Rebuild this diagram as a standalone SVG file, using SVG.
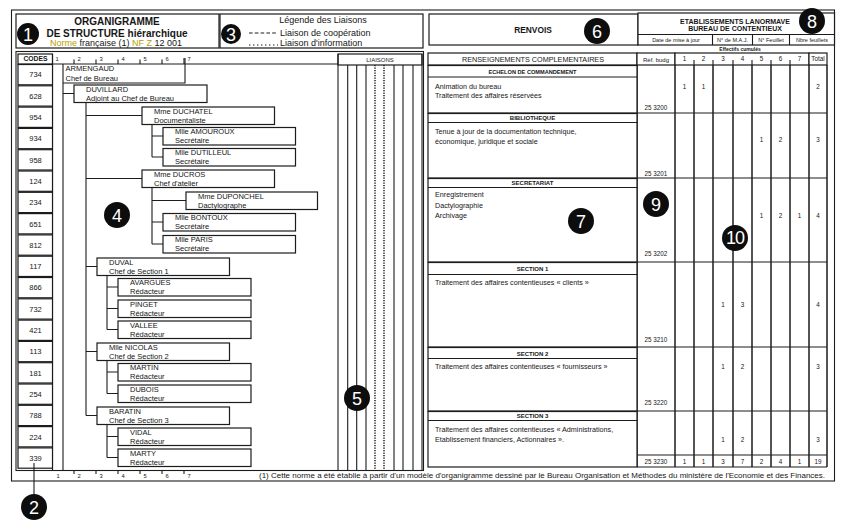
<svg xmlns="http://www.w3.org/2000/svg" width="842" height="523" viewBox="0 0 842 523">
<style>
.l{stroke:#1c1c1c;stroke-width:1.1;fill:none}
.b{fill:#fff;stroke:#1c1c1c;stroke-width:1.2}
.g{stroke:#1c1c1c;stroke-width:1.5;fill:none}
text{font-family:"Liberation Sans",Arial,sans-serif;fill:#161616}
.n{font-size:7.5px}
.c{font-size:7.5px;text-anchor:middle}
.m{text-anchor:middle}
.s{font-size:5.8px;text-anchor:middle}
.r{font-size:7.2px}
.h{font-size:6px;font-weight:bold;text-anchor:middle}
.v{font-size:6.3px;text-anchor:middle}
.k circle{fill:#0d0d0d}
.k text{fill:#fff;font-size:18px;text-anchor:middle}
.dot{stroke-dasharray:1.3 1.2;stroke-width:1.5}
.ol{fill:#b5a000}
</style>
<rect width="842" height="523" fill="#fff"/>
<rect x="11.5" y="10" width="823" height="471" class="l"/>

<g id="header-title">
<rect x="16" y="14" width="203" height="34" class="b"/>
<text x="117" y="25" class="m" font-size="10" font-weight="bold">ORGANIGRAMME</text>
<text x="117" y="36.5" class="m" font-size="10" font-weight="bold">DE STRUCTURE hiérarchique</text>
<text x="116" y="46" class="m" font-size="9"><tspan class="ol">Norme</tspan> française (1) <tspan class="ol">NF Z</tspan> 12 001</text>
</g>
<g id="header-legend">
<rect x="220" y="14" width="203" height="34" class="b"/>
<text x="323" y="23" class="m" font-size="9">Légende des Liaisons</text>
<line x1="249" y1="33" x2="278" y2="33" class="l" stroke-dasharray="3.6 2.2" stroke-width="1.3"/>
<text x="280" y="35.5" font-size="9">Liaison de coopération</text>
<line x1="249" y1="45" x2="278" y2="45" class="l" stroke-dasharray="1.4 2.6" stroke-width="1.6"/>
<text x="280" y="46" font-size="9">Liaison d'information</text>
</g>
<g id="header-renvois">
<rect x="429" y="14" width="209" height="31" class="b"/>
<text x="533" y="33" class="m" font-size="8.4" font-weight="bold">RENVOIS</text>
</g>
<g id="header-etab">
<rect x="638" y="13" width="196.5" height="32" class="b"/>
<text x="735" y="23.5" class="m" font-size="7" font-weight="bold">ETABLISSEMENTS LANORMAVE</text>
<text x="735" y="31" class="m" font-size="7" font-weight="bold">BUREAU DE CONTENTIEUX</text>
<path d="M638 34.5H834.5M712.5 34.5V45M752.5 34.5V45M789.5 34.5V45" class="l"/>
<text x="676" y="41.8" class="m" font-size="5.5">Date de mise à jour</text>
<text x="732.5" y="41.8" class="m" font-size="5.5">N° de M.A.J.</text>
<text x="771" y="41.8" class="m" font-size="5.5">N° Feuillet</text>
<text x="812" y="41.8" class="m" font-size="5.5">Nbre feuillets</text>
<text x="740" y="50.5" class="m" font-size="5" font-weight="bold">Effectifs cumulés</text>
</g>

<g id="left-panel">
<rect x="16" y="51.5" width="407.5" height="419" class="l"/>
<rect x="18" y="54" width="34.5" height="10" class="b"/>
<text x="35.5" y="61.2" class="m" font-size="6.8" font-weight="bold">CODES</text>
<path d="M52.5 64H338M52.5 54V470.5M74 59.5V64M96 59.5V64M118 59.5V64M140 59.5V64M162 59.5V64M184 58V64M74 470V474M96 470V474M118 470V474M140 470V474M162 470V474M184 470V474" class="l"/>
<text x="57" y="61" class="s">1</text><text x="79" y="61" class="s">2</text><text x="101" y="61" class="s">3</text><text x="123" y="61" class="s">4</text><text x="145" y="61" class="s">5</text><text x="167" y="61" class="s">6</text><text x="189" y="61" class="s">7</text>
<text x="58" y="477.5" class="s">1</text><text x="79" y="477.5" class="s">2</text><text x="101" y="477.5" class="s">3</text><text x="123" y="477.5" class="s">4</text><text x="145" y="477.5" class="s">5</text><text x="167" y="477.5" class="s">6</text><text x="189" y="477.5" class="s">7</text>
</g>

<g id="codes">
<rect x="18" y="64.5" width="34.5" height="20.3" class="b"/><text x="35.5" y="77.4" class="c">734</text>
<rect x="18" y="85.8" width="34.5" height="20.3" class="b"/><text x="35.5" y="98.7" class="c">628</text>
<rect x="18" y="107.1" width="34.5" height="20.3" class="b"/><text x="35.5" y="120" class="c">954</text>
<rect x="18" y="128.4" width="34.5" height="20.3" class="b"/><text x="35.5" y="141.3" class="c">934</text>
<rect x="18" y="149.7" width="34.5" height="20.3" class="b"/><text x="35.5" y="162.6" class="c">958</text>
<rect x="18" y="171" width="34.5" height="20.3" class="b"/><text x="35.5" y="183.9" class="c">124</text>
<rect x="18" y="192.3" width="34.5" height="20.3" class="b"/><text x="35.5" y="205.2" class="c">234</text>
<rect x="18" y="213.6" width="34.5" height="20.3" class="b"/><text x="35.5" y="226.5" class="c">651</text>
<rect x="18" y="234.9" width="34.5" height="20.3" class="b"/><text x="35.5" y="247.8" class="c">812</text>
<rect x="18" y="256.2" width="34.5" height="20.3" class="b"/><text x="35.5" y="269.1" class="c">117</text>
<rect x="18" y="277.5" width="34.5" height="20.3" class="b"/><text x="35.5" y="290.4" class="c">866</text>
<rect x="18" y="298.8" width="34.5" height="20.3" class="b"/><text x="35.5" y="311.7" class="c">732</text>
<rect x="18" y="320.1" width="34.5" height="20.3" class="b"/><text x="35.5" y="333" class="c">421</text>
<rect x="18" y="341.4" width="34.5" height="20.3" class="b"/><text x="35.5" y="354.3" class="c">113</text>
<rect x="18" y="362.7" width="34.5" height="20.3" class="b"/><text x="35.5" y="375.6" class="c">181</text>
<rect x="18" y="384" width="34.5" height="20.3" class="b"/><text x="35.5" y="396.9" class="c">254</text>
<rect x="18" y="405.3" width="34.5" height="20.3" class="b"/><text x="35.5" y="418.2" class="c">788</text>
<rect x="18" y="426.6" width="34.5" height="20.3" class="b"/><text x="35.5" y="439.5" class="c">224</text>
<rect x="18" y="447.9" width="34.5" height="20.3" class="b"/><text x="35.5" y="460.8" class="c">339</text>
</g>

<g id="connectors">
<path class="l" d="M63 64V470.5M63 93.5H74M86 102.5V415.5M86 115.5H142M86 178.5H142M86 266.5H97M86 351.5H97M86 415.5H97
M152 124.5V157M152 136H163M152 157H163M152 187.5V244M152 200.5H186M152 222H163M152 244H163
M107 275.5V329.5M107 287H118M107 308.5H118M107 329.5H118M107 360.5V393.5M107 372H118M107 393.5H118M107 424.5V457.5M107 436.5H118M107 457.5H118"/>
</g>

<g id="n-armengaud"><path d="M63 83H185V58" class="l"/><text x="65.5" y="71" class="n">ARMENGAUD</text><text x="65.5" y="80.5" class="n">Chef de Bureau</text></g>
<g id="n-duvillard"><rect x="74" y="85" width="133" height="17.5" class="b"/><text x="86" y="91.5" class="n">DUVILLARD</text><text x="86" y="100.5" class="n">Adjoint au Chef de Bureau</text></g>
<g id="n-duchatel"><rect x="142" y="107" width="132.5" height="17.5" class="b"/><text x="154" y="113.5" class="n">Mme DUCHATEL</text><text x="154" y="122.5" class="n">Documentaliste</text></g>
<g id="n-amouroux"><rect x="163" y="127.5" width="132.5" height="17.5" class="b"/><text x="175" y="134" class="n">Mlle AMOUROUX</text><text x="175" y="143" class="n">Secrétaire</text></g>
<g id="n-dutilleul"><rect x="163" y="148.5" width="132.5" height="17.5" class="b"/><text x="175" y="155" class="n">Mlle DUTILLEUL</text><text x="175" y="164" class="n">Secrétaire</text></g>
<g id="n-ducros"><rect x="142" y="170" width="132.5" height="17.5" class="b"/><text x="154" y="176.5" class="n">Mme DUCROS</text><text x="154" y="185.5" class="n">Chef d'atelier</text></g>
<g id="n-duponchel"><rect x="186" y="192" width="131.5" height="17.5" class="b"/><text x="198" y="198.5" class="n">Mme DUPONCHEL</text><text x="198" y="207.5" class="n">Dactylographe</text></g>
<g id="n-bontoux"><rect x="163" y="213.5" width="132.5" height="17.5" class="b"/><text x="175" y="220" class="n">Mlle BONTOUX</text><text x="175" y="229" class="n">Secrétaire</text></g>
<g id="n-paris"><rect x="163" y="235.5" width="132.5" height="17.5" class="b"/><text x="175" y="242" class="n">Mlle PARIS</text><text x="175" y="251" class="n">Secrétaire</text></g>
<g id="n-duval"><rect x="97" y="258" width="132.5" height="17.5" class="b"/><text x="109" y="264.5" class="n">DUVAL</text><text x="109" y="273.5" class="n">Chef de Section 1</text></g>
<g id="n-avargues"><rect x="118" y="278.5" width="133" height="17.5" class="b"/><text x="130" y="285" class="n">AVARGUES</text><text x="130" y="294" class="n">Rédacteur</text></g>
<g id="n-pinget"><rect x="118" y="300" width="133" height="17.5" class="b"/><text x="130" y="306.5" class="n">PINGET</text><text x="130" y="315.5" class="n">Rédacteur</text></g>
<g id="n-vallee"><rect x="118" y="321" width="133" height="17.5" class="b"/><text x="130" y="327.5" class="n">VALLEE</text><text x="130" y="336.5" class="n">Rédacteur</text></g>
<g id="n-nicolas"><rect x="97" y="343" width="132.5" height="17.5" class="b"/><text x="109" y="349.5" class="n">Mlle NICOLAS</text><text x="109" y="358.5" class="n">Chef de Section 2</text></g>
<g id="n-martin"><rect x="118" y="363.5" width="133" height="17.5" class="b"/><text x="130" y="370" class="n">MARTIN</text><text x="130" y="379" class="n">Rédacteur</text></g>
<g id="n-dubois"><rect x="118" y="385" width="133" height="17.5" class="b"/><text x="130" y="391.5" class="n">DUBOIS</text><text x="130" y="400.5" class="n">Rédacteur</text></g>
<g id="n-baratin"><rect x="97" y="407" width="132.5" height="17.5" class="b"/><text x="109" y="413.5" class="n">BARATIN</text><text x="109" y="422.5" class="n">Chef de Section 3</text></g>
<g id="n-vidal"><rect x="118" y="428" width="133" height="17.5" class="b"/><text x="130" y="434.5" class="n">VIDAL</text><text x="130" y="443.5" class="n">Rédacteur</text></g>
<g id="n-marty"><rect x="118" y="449" width="133" height="17.5" class="b"/><text x="130" y="455.5" class="n">MARTY</text><text x="130" y="464.5" class="n">Rédacteur</text></g>

<g id="liaisons">
<rect x="338" y="54" width="84" height="11" class="b"/>
<text x="380" y="62" class="m" font-size="6">LIAISONS</text>
<path class="l" d="M338 54V470.5M422 54V470.5M347.7 65V470.5M356.7 65V470.5M366 65V470.5M394 65V470.5M403 65V470.5M413 65V470.5"/>
<path class="l dot" d="M375 65V470.5M384 65V470.5"/>
</g>

<g id="renseignements">
<rect x="428" y="53" width="209" height="12" class="b"/>
<text x="533" y="61.5" class="m" font-size="6.5" textLength="142" lengthAdjust="spacingAndGlyphs">RENSEIGNEMENTS COMPLEMENTAIRES</text>
<rect x="637" y="53" width="38" height="12" class="b"/>
<text x="656" y="61.5" class="m" font-size="6">Réf. budg</text>
<rect x="675" y="53" width="134" height="12" class="b"/>
<path class="l" d="M694 60V65M713 60V65M733 60V65M752 60V65M771 60V65M790 60V65"/>
<text x="684.5" y="61" class="v">1</text><text x="703.5" y="61" class="v">2</text><text x="723" y="61" class="v">3</text><text x="742.5" y="61" class="v">4</text><text x="761.5" y="61" class="v">5</text><text x="780.5" y="61" class="v">6</text><text x="799.5" y="61" class="v">7</text>
<rect x="809" y="53" width="18" height="12" class="b"/>
<text x="818" y="61" class="v" font-size="5.5">Total</text>
</g>

<g id="grid">
<path class="g" d="M637 65V467M675 65V467M694 65V467M713 65V467M733 65V467M752 65V467M771 65V467M790 65V467M809 65V467M827 65V467"/>
<path class="l" d="M637 113H827M637 178H827M637 262H827M637 347H827M637 411H827M637 455H827M637 467H827"/>
</g>

<g id="sec-echelon">
<rect x="428" y="65.5" width="209" height="47.5" class="b"/>
<line x1="428" y1="77" x2="637" y2="77" class="l"/>
<text x="532.5" y="74" class="h" textLength="88" lengthAdjust="spacingAndGlyphs">ECHELON DE COMMANDEMENT</text>
<text x="435" y="89" class="r">Animation du bureau</text>
<text x="435" y="97.5" class="r">Traitement des affaires réservées</text>
<text x="656" y="110" class="v">25 3200</text>
<text x="684.5" y="89" class="v">1</text><text x="703.5" y="89" class="v">1</text><text x="818" y="89" class="v">2</text>
</g>
<g id="sec-bibliotheque">
<rect x="428" y="113.5" width="209" height="64.5" class="b"/>
<line x1="428" y1="122.5" x2="637" y2="122.5" class="l"/>
<text x="532.5" y="120.3" class="h">BIBLIOTHEQUE</text>
<text x="435" y="133.5" class="r">Tenue à jour de la documentation technique,</text>
<text x="435" y="143.5" class="r">économique, juridique et sociale</text>
<text x="656" y="176" class="v">25 3201</text>
<text x="761.5" y="142" class="v">1</text><text x="780.5" y="142" class="v">2</text><text x="818" y="142" class="v">3</text>
</g>
<g id="sec-secretariat">
<rect x="428" y="178.5" width="209" height="83.5" class="b"/>
<line x1="428" y1="187.5" x2="637" y2="187.5" class="l"/>
<text x="532.5" y="185.2" class="h">SECRETARIAT</text>
<text x="435" y="197" class="r">Enregistrement</text>
<text x="435" y="207.5" class="r">Dactylographie</text>
<text x="435" y="218" class="r">Archivage</text>
<text x="656" y="256" class="v">25 3202</text>
<text x="761.5" y="218" class="v">1</text><text x="780.5" y="218" class="v">2</text><text x="799.5" y="218" class="v">1</text><text x="818" y="218" class="v">4</text>
</g>
<g id="sec-section1">
<rect x="428" y="262.5" width="209" height="84.5" class="b"/>
<line x1="428" y1="274.5" x2="637" y2="274.5" class="l"/>
<text x="532.5" y="271" class="h" font-size="6.5">SECTION 1</text>
<text x="435" y="285" class="r">Traitement des affaires contentieuses « clients »</text>
<text x="656" y="342" class="v">25 3210</text>
<text x="723" y="307" class="v">1</text><text x="742.5" y="307" class="v">3</text><text x="818" y="307" class="v">4</text>
</g>
<g id="sec-section2">
<rect x="428" y="347.5" width="209" height="63.5" class="b"/>
<line x1="428" y1="358.5" x2="637" y2="358.5" class="l"/>
<text x="532.5" y="355.5" class="h" font-size="6.5">SECTION 2</text>
<text x="435" y="369" class="r">Traitement des affaires contentieuses « fournisseurs »</text>
<text x="656" y="405" class="v">25 3220</text>
<text x="723" y="369" class="v">1</text><text x="742.5" y="369" class="v">2</text><text x="818" y="369" class="v">3</text>
</g>
<g id="sec-section3">
<rect x="428" y="411.5" width="209" height="55.5" class="b"/>
<line x1="428" y1="420.5" x2="637" y2="420.5" class="l"/>
<text x="532.5" y="418.3" class="h" font-size="6.5">SECTION 3</text>
<text x="435" y="432" class="r">Traitement des affaires contentieuses « Administrations,</text>
<text x="435" y="442" class="r">Etablissement financiers, Actionnaires ».</text>
<text x="723" y="442" class="v">1</text><text x="742.5" y="442" class="v">2</text><text x="818" y="442" class="v">3</text>
</g>
<g id="totals">
<text x="656" y="464" class="v">25 3230</text>
<text x="684.5" y="464" class="v">1</text><text x="703.5" y="464" class="v">1</text><text x="723" y="464" class="v">3</text><text x="742.5" y="464" class="v">7</text><text x="761.5" y="464" class="v">2</text><text x="780.5" y="464" class="v">4</text><text x="799.5" y="464" class="v">1</text><text x="818" y="464" class="v">19</text>
</g>

<text id="footer" x="259" y="477.8" font-size="7" textLength="566" lengthAdjust="spacingAndGlyphs">(1) Cette norme a été établie à partir d'un modèle d'organigramme dessiné par le Bureau Organisation et Méthodes du ministère de l'Economie et des Finances.</text>

<line x1="34" y1="463" x2="34" y2="495" class="l"/>
<g class="k">
<g id="badge-1"><circle cx="28" cy="34" r="11"/><text x="28" y="40.5">1</text></g>
<g id="badge-2"><circle cx="34" cy="507" r="13"/><text x="34" y="513.5">2</text></g>
<g id="badge-3"><circle cx="231" cy="34" r="10"/><text x="231" y="40.5">3</text></g>
<g id="badge-4"><circle cx="117" cy="215" r="13"/><text x="117" y="221.5">4</text></g>
<g id="badge-5"><circle cx="357" cy="398" r="13"/><text x="357" y="404.5">5</text></g>
<g id="badge-6"><circle cx="597" cy="31" r="13"/><text x="597" y="37.5">6</text></g>
<g id="badge-7"><circle cx="581" cy="221" r="13"/><text x="581" y="227.5">7</text></g>
<g id="badge-8"><circle cx="812" cy="21" r="13"/><text x="812" y="27.5">8</text></g>
<g id="badge-9"><circle cx="656" cy="204" r="13"/><text x="656" y="210.5">9</text></g>
<g id="badge-10"><circle cx="735" cy="238" r="13"/><text x="735" y="243.5" font-size="15" letter-spacing="-1">10</text></g>
</g>
</svg>
